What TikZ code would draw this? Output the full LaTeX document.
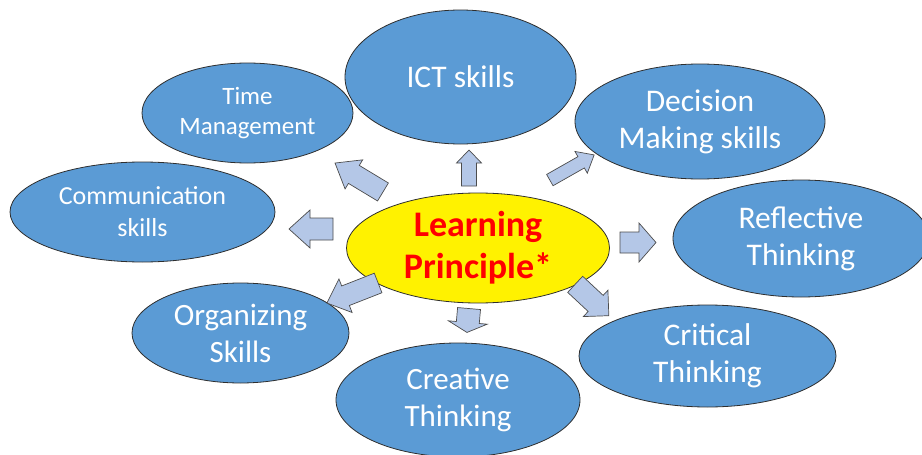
\documentclass[tikz,border=0pt]{standalone}
\usepackage{fontspec}
\setmainfont{Carlito}
\usetikzlibrary{shapes.geometric}
\definecolor{skillblue}{HTML}{5B9BD5}
\definecolor{arrowblue}{HTML}{B4C7E7}
\definecolor{outline}{HTML}{2E2E2E}
\tikzset{
  skill/.style={ellipse, draw=outline, line width=0.8pt, fill=skillblue,
    text=white, align=center, inner sep=0pt},
  hub/.style={ellipse, draw=outline, line width=0.8pt, fill=yellow,
    text=red, align=center, inner sep=0pt, font=\bfseries\fontsize{36}{42}\selectfont},
  blockarrow/.style={draw=black!70, line width=0.7pt, fill=arrowblue, line join=miter},
}
% block arrow: centre x, centre y, direction (deg), length, shaft width, head width, head length
\newcommand{\blkarrow}[8]{%
  \begin{scope}[shift={(#2,#3)},rotate=#4]
    \draw[blockarrow] (-#5/2,-#6/2) -- (#5/2-#8,-#6/2) -- (#5/2-#8,-#7/2)
      -- (#5/2,0) coordinate (#1) -- (#5/2-#8,#7/2) -- (#5/2-#8,#6/2) -- (-#5/2,#6/2) -- cycle;
  \end{scope}}
\begin{document}
\begin{tikzpicture}[x=1pt,y=-1pt]
  \useasboundingbox (0,0) rectangle (922,455);
  \begin{scope}
    \clip (0,0) rectangle (922,455);
    % outer skills
    \node[skill, minimum width=231, minimum height=134, font=\fontsize{31.5}{37}\selectfont] (ict) at (460.5,77) {ICT skills};
    \node[skill, minimum width=250, minimum height=115, font=\fontsize{31.5}{37}\selectfont] (dec) at (700,121.5) {Decision\\Making skills};
    \node[skill, minimum width=256, minimum height=117, font=\fontsize{31.5}{37}\selectfont] (refl) at (801,238.5) {Reflective\\Thinking};
    \node[skill, minimum width=257, minimum height=102, font=\fontsize{31.5}{37}\selectfont] (crit) at (707.5,356) {Critical\\Thinking};
    \node[skill, minimum width=244, minimum height=114, font=\fontsize{31}{37}\selectfont] (crea) at (458,400) {Creative\\Thinking};
    \node[skill, minimum width=217, minimum height=100, font=\fontsize{31}{37}\selectfont] (org) at (240.5,333) {Organizing\\Skills};
    \node[skill, minimum width=265, minimum height=100, font=\fontsize{26}{32}\selectfont] (comm) at (142.5,212) {Communication\\skills};
    \node[skill, minimum width=211, minimum height=100, font=\fontsize{25}{30}\selectfont] (time) at (247.5,113) {Time\\Management};
    % central idea
    \node[hub, minimum width=263, minimum height=110] (lp) at (478,248) {Learning\\Principle*};
  \end{scope}
  % block arrows radiating from the centre
  \blkarrow{aict}{469}{168}{90}{36}{15}{25}{13}
  \blkarrow{adec}{572}{167.5}{29.6}{51}{13}{25}{15}
  \blkarrow{arefl}{638}{242.5}{0}{36}{21}{39}{17}
  \blkarrow{acrit}{592}{300}{-43}{46}{22}{36}{18}
  \blkarrow{acrea}{468}{320.5}{-95}{24}{23}{39}{10}
  \blkarrow{aorg}{352.5}{293}{201.4}{55}{21}{36}{20}
  \blkarrow{acomm}{311}{229}{180}{44}{22}{38}{21}
  \blkarrow{atime}{359}{177.5}{148.9}{56}{21}{34}{22}
\end{tikzpicture}
\end{document}
